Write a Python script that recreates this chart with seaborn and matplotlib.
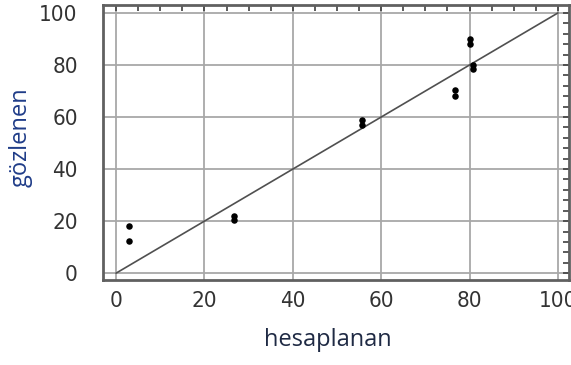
import numpy as np
import pandas as pd
import matplotlib
matplotlib.use('Agg')
import matplotlib.pyplot as plt
import seaborn as sns
from matplotlib.ticker import MultipleLocator

# 数据
hesaplanan = [3.0, 3.0, 26.8, 26.8, 55.6, 55.6, 76.6, 76.6, 80.1, 80.1, 80.8, 80.8]
gozlenen = [18.0, 12.2, 21.8, 20.6, 59.0, 57.0, 70.3, 68.0, 90.0, 88.0, 80.0, 78.3]
line_x = [0, 100]
line_y = [0, 100]
ticks = [0, 20, 40, 60, 80, 100]

sns.set_theme(style='white')
plt.rcParams['font.family'] = ['DejaVu Sans']
plt.rcParams['font.stretch'] = 'condensed'

df = pd.DataFrame({'hesaplanan': hesaplanan, 'gözlenen': gozlenen})

fig = plt.figure(figsize=(5.71, 3.65), dpi=100)
ax = fig.add_axes([0.180, 0.233, 0.8165, 0.753])

ax.grid(True, color='#a8a8a8', linewidth=1.3)
ax.set_axisbelow(True)
sns.lineplot(x=line_x, y=line_y, ax=ax, color='#505050', linewidth=1.2)
sns.scatterplot(data=df, x='hesaplanan', y='gözlenen', ax=ax, color='black',
                s=22, edgecolor='black', linewidth=0, zorder=3)

ax.set_xlim(-3, 102.5)
ax.set_ylim(-2.6, 103)
ax.set_xticks(ticks)
ax.set_yticks(ticks)
ax.xaxis.set_minor_locator(MultipleLocator(5))
ax.yaxis.set_minor_locator(MultipleLocator(4))
ax.tick_params(which='both', direction='in', top=True, right=True,
               color='#404040', width=1.2)
ax.tick_params(which='major', length=4)
ax.tick_params(which='minor', length=4)
ax.tick_params(axis='x', which='major', pad=8, labelsize=16, labelcolor='#333333')
ax.tick_params(axis='y', which='major', pad=18, labelsize=16, labelcolor='#333333')

for s in ax.spines.values():
    s.set_color('#606060')
    s.set_linewidth(2.0)

ax.set_xlabel('hesaplanan', family=['Open Sans', 'DejaVu Sans'], fontsize=17,
              fontstretch='normal', color='#1f2a44')
ax.set_ylabel('gözlenen', family=['Open Sans', 'DejaVu Sans'], fontsize=17,
              fontstretch='normal', color='#1f3c88')
ax.xaxis.set_label_coords(0.483, -0.175)
ax.yaxis.set_label_coords(-0.15, 0.52)

fig.savefig('out.png', dpi=100)
